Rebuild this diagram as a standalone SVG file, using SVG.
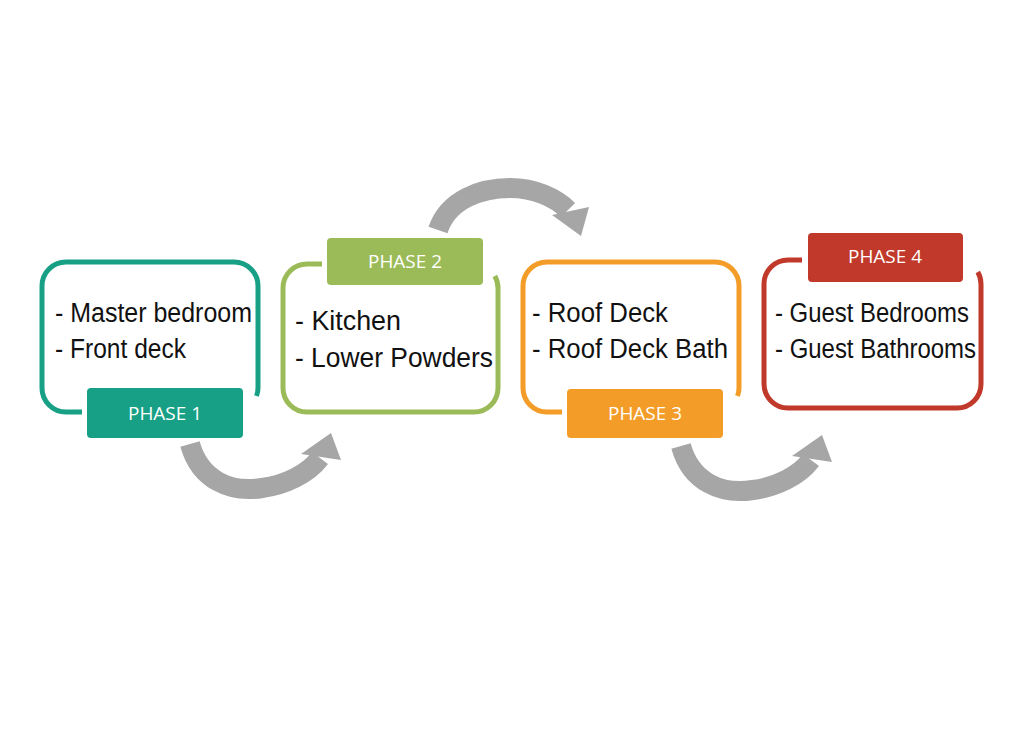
<svg xmlns="http://www.w3.org/2000/svg" width="1024" height="730" viewBox="0 0 1024 730">
<style>
.frame{fill:none;stroke-width:5;stroke-linecap:butt}
.body{font-family:"Liberation Sans",Arial,sans-serif;font-size:27px;fill:#111}
.lbl{font-family:"Open Sans","Liberation Sans",sans-serif;font-size:18px;fill:#fff;text-anchor:middle}
.band{fill:none;stroke:#a6a6a6;stroke-width:20}
.head{fill:#a6a6a6}
</style>
<rect width="1024" height="730" fill="#fff"/>
<g id="connectors">
  <g id="arrow1">
    <path class="band" d="M 190 444 C 200 480 230 493 262 488 C 285 485 308 474 320 458"/>
    <polygon class="head" points="331,433 341,460 301,454"/>
  </g>
  <g id="arrow2">
    <path class="band" d="M 438 230 C 448 200 480 188 510 188 C 535 188 556 198 568 210"/>
    <polygon class="head" points="581,236 552,215 589,207"/>
  </g>
  <g id="arrow3" transform="translate(491,2)">
    <path class="band" d="M 190 444 C 200 480 230 493 262 488 C 285 485 308 474 320 458"/>
    <polygon class="head" points="331,433 341,460 301,454"/>
  </g>
</g>
<g id="phase1">
  <path class="frame" stroke="#17a085" d="M 256.5 396 A 24 24 0 0 0 258 388 L 258 286 A 24 24 0 0 0 234 262 L 66 262 A 24 24 0 0 0 42 286 L 42 388 A 24 24 0 0 0 66 412 L 82 412"/>
  <rect x="87" y="388" width="156" height="50" rx="4" fill="#17a085"/>
  <text class="lbl" x="165" y="420" textLength="74" lengthAdjust="spacingAndGlyphs">PHASE 1</text>
  <text class="body" x="55" y="322" textLength="197" lengthAdjust="spacingAndGlyphs">- Master bedroom</text>
  <text class="body" x="55" y="358" textLength="131" lengthAdjust="spacingAndGlyphs">- Front deck</text>
</g>
<g id="phase2">
  <path class="frame" stroke="#9bbb59" d="M 322 264 L 307 264 A 24 24 0 0 0 283 288 L 283 388 A 24 24 0 0 0 307 412 L 474 412 A 24 24 0 0 0 498 388 L 498 288 A 24 24 0 0 0 494.8 276"/>
  <rect x="327" y="238" width="156" height="47" rx="4" fill="#9bbb59"/>
  <text class="lbl" x="405" y="268" textLength="74" lengthAdjust="spacingAndGlyphs">PHASE 2</text>
  <text class="body" x="295" y="330" textLength="106" lengthAdjust="spacingAndGlyphs">- Kitchen</text>
  <text class="body" x="295" y="367" textLength="198" lengthAdjust="spacingAndGlyphs">- Lower Powders</text>
</g>
<g id="phase3">
  <path class="frame" stroke="#f39c28" d="M 737.5 396 A 24 24 0 0 0 739 388 L 739 286 A 24 24 0 0 0 715 262 L 547 262 A 24 24 0 0 0 523 286 L 523 388 A 24 24 0 0 0 547 412 L 562 412"/>
  <rect x="567" y="389" width="156" height="49" rx="4" fill="#f39c28"/>
  <text class="lbl" x="645" y="420" textLength="74" lengthAdjust="spacingAndGlyphs">PHASE 3</text>
  <text class="body" x="532" y="322" textLength="136" lengthAdjust="spacingAndGlyphs">- Roof Deck</text>
  <text class="body" x="532" y="358" textLength="196" lengthAdjust="spacingAndGlyphs">- Roof Deck Bath</text>
</g>
<g id="phase4">
  <path class="frame" stroke="#c0392b" d="M 802 260 L 788 260 A 24 24 0 0 0 764 284 L 764 384 A 24 24 0 0 0 788 408 L 957 408 A 24 24 0 0 0 981 384 L 981 284 A 24 24 0 0 0 977.8 272"/>
  <rect x="808" y="233" width="155" height="49" rx="4" fill="#c0392b"/>
  <text class="lbl" x="885" y="263" textLength="74" lengthAdjust="spacingAndGlyphs">PHASE 4</text>
  <text class="body" x="775" y="322" textLength="194" lengthAdjust="spacingAndGlyphs">- Guest Bedrooms</text>
  <text class="body" x="775" y="358" textLength="201" lengthAdjust="spacingAndGlyphs">- Guest Bathrooms</text>
</g>
</svg>
